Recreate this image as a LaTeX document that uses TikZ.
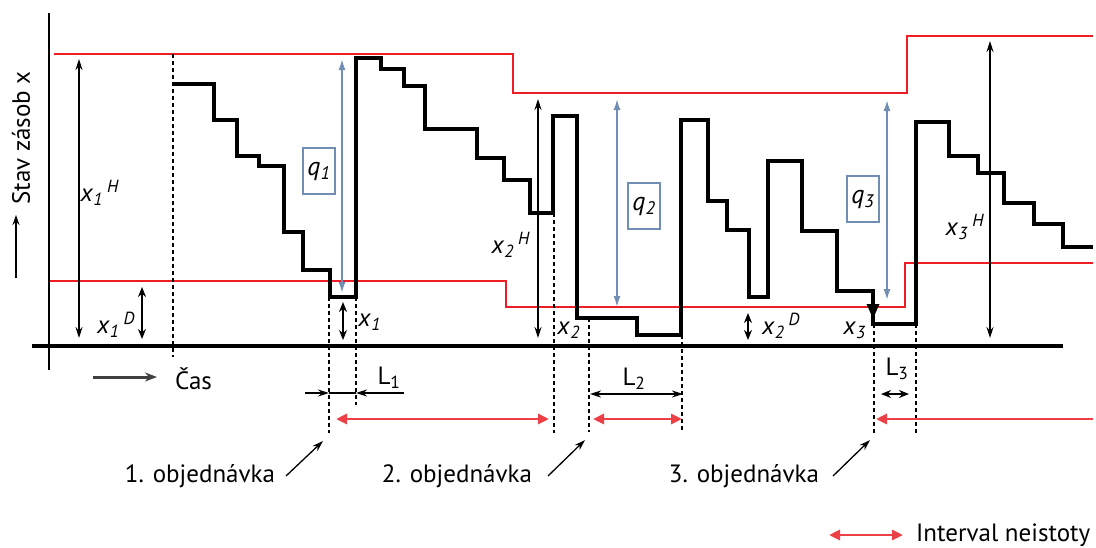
\documentclass[tikz,border=0pt]{standalone}
\usepackage{fontspec}
\setmainfont{PT Sans}
\usetikzlibrary{arrows.meta}
\definecolor{qblue}{RGB}{112,142,180}
\definecolor{limred}{RGB}{238,28,36}
\definecolor{intred}{RGB}{236,64,70}
\newcommand{\xsym}[2]{\textit{x}\textsubscript{\textit{#1}}\,\textsuperscript{\textit{#2}}}
\newcommand{\qsym}[1]{\textit{q}\textsubscript{\textit{#1}}}

\begin{document}
\begin{tikzpicture}[x=1pt,y=-1pt,
  lbl/.style={font=\fontsize{25}{27}\selectfont, inner sep=0pt},
  stock/.style={line width=3.2pt, line join=miter},
  limit/.style={limred, line width=1.5pt},
  guide/.style={dash pattern=on 4pt off 3pt, line width=1.1pt},
  span/.style={{Stealth[length=11pt,width=7pt]}-{Stealth[length=11pt,width=7pt]}, line width=1.3pt},
  bigspan/.style={{Stealth[length=10pt,width=8pt]}-{Stealth[length=10pt,width=8pt]}, line width=2.2pt},
  qspan/.style={qblue, line width=1.8pt, {Latex[length=11pt,width=7pt]}-{Latex[length=11pt,width=7pt]}},
  qbox/.style={draw=qblue, line width=1.3pt, minimum width=32pt, minimum height=46pt, inner sep=0pt, font=\fontsize{26}{28}\selectfont},
  interval/.style={intred, line width=2.8pt},
  pointer/.style={-{Stealth[length=11pt,width=7pt]}, line width=1.3pt}]
\useasboundingbox (0,0) rectangle (1096,547);
\fill [white] (0,0) rectangle (1096,547);

% axes
\draw [line width=2.5pt] (49,13) -- (49,370);
\draw [line width=3.5pt] (32,346) -- (1063,346);
\node [lbl, rotate=90] (ylab) at (21,138) {Stav zásob x};
\draw [-{Stealth[length=10pt,width=7pt]}, line width=2pt] (16,278) -- (16,215);
\draw [-{Stealth[length=12pt,width=9pt]}, line width=3pt, black!75] (93,377) -- (157,377);
\node [lbl, anchor=west] (cas) at (175,379) {Čas};

% limits
\draw [limit] (54,54) -- (513,54) -- (513,93) -- (907,93) -- (907,36) -- (1093,36);
\draw [limit] (50,281) -- (506,281) -- (506,307) -- (905,307) -- (905,263) -- (1093,263);

% dashed guides
\draw [guide] (173,54) -- (173,357);
\draw [guide] (329,297) -- (329,433);
\draw [guide] (356,297) -- (356,405);
\draw [guide] (554,213) -- (554,433);
\draw [guide] (589,318) -- (589,432);
\draw [guide] (682,335) -- (682,430);
\draw [guide] (874,324) -- (874,433);
\draw [guide] (916,324) -- (916,433);

% stock level
\draw [stock] (173,84) -- (214,84) -- (214,120) -- (237,120) -- (237,156) -- (259,156) -- (259,166)
  -- (284,166) -- (284,232) -- (303,232) -- (303,270) -- (330,270) -- (330,297) -- (356,297)
  -- (356,58) -- (381,58) -- (381,69) -- (404,69) -- (404,86) -- (425,86) -- (425,129) -- (477,129)
  -- (477,158) -- (504,158) -- (504,180) -- (530,180) -- (530,213) -- (553,213) -- (553,116)
  -- (577,116) -- (577,318) -- (637,318) -- (637,335) -- (681,335) -- (681,120) -- (708,120)
  -- (708,201) -- (727,201) -- (727,230) -- (749,230) -- (749,297) -- (768,297) -- (768,161)
  -- (802,161) -- (802,231) -- (837,231) -- (837,291) -- (873,291) -- (873,324) -- (916,324)
  -- (916,122) -- (949,122) -- (949,156) -- (978,156) -- (978,173) -- (1004,173) -- (1004,203)
  -- (1034,203) -- (1034,224) -- (1063,224) -- (1063,247) -- (1093,247);
\draw [-{Triangle[length=15pt,width=12pt]}, line width=3.2pt] (873,291) -- (873,319);

% vertical spans
\draw [span] (79,59) -- (79,338);
\node [lbl] (xH1) at (100,193) {\xsym{1}{H}};
\draw [bigspan] (142,287) -- (142,339);
\node [lbl] (xD1) at (116,325) {\xsym{1}{D}};
\draw [qspan] (342,59) -- (342,293);
\node [qbox] (q1) at (319,171) {\qsym{1}};
\draw [bigspan] (343,302) -- (343,340);
\node [lbl] (x1) at (372,322) {\xsym{1}{}};
\draw [span] (538,99) -- (538,338);
\node [lbl] (xH2) at (511,245) {\xsym{2}{H}};
\node [lbl] (x2) at (571,330) {\xsym{2}{}};
\draw [qspan] (617,99) -- (617,307);
\node [qbox] (q2) at (644,206) {\qsym{2}};
\draw [bigspan] (748,313) -- (748,340);
\node [lbl] (xD2) at (781,326) {\xsym{2}{D}};
\node [lbl] (x3) at (857,330) {\xsym{3}{}};
\draw [qspan] (887,100) -- (887,300);
\node [qbox] (q3) at (863,199) {\qsym{3}};
\draw [span] (990,41) -- (990,338);
\node [lbl] (xH3) at (965,227) {\xsym{3}{H}};

% lead times
\node [lbl] (L1) at (389,378) {L\textsubscript{1}};
\draw [pointer] (305,393) -- (329,393);
\draw [line width=1.3pt] (329,393) -- (356,393);
\draw [pointer] (404,393) -- (356,393);
\node [lbl] (L2) at (634,379) {L\textsubscript{2}};
\draw [span, line width=2pt] (590,394) -- (683,394);
\node [lbl] (L3) at (897,369) {L\textsubscript{3}};
\draw [bigspan] (881,394) -- (909,394);

% uncertainty intervals
\draw [interval, {Triangle[length=11pt,width=10pt]}-{Triangle[length=11pt,width=10pt]}] (336,419) -- (549,419);
\draw [interval, {Triangle[length=11pt,width=10pt]}-{Triangle[length=11pt,width=10pt]}] (593,419) -- (682,419);
\draw [interval, {Triangle[length=11pt,width=10pt]}-] (876,419) -- (1093,419);

% orders
\node [lbl] (obj1) at (200,476) {1. objednávka};
\draw [pointer] (286,476) -- (323,441);
\node [lbl] (obj2) at (457,476) {2. objednávka};
\draw [pointer] (548,476) -- (585,440);
\node [lbl] (obj3) at (744,476) {3. objednávka};
\draw [pointer] (833,476) -- (870,440);

% legend
\draw [interval, {Triangle[length=11pt,width=10pt]}-{Triangle[length=11pt,width=10pt]}] (829,535) -- (903,535);
\node [lbl, anchor=west] (legend) at (916,535) {Interval neistoty};
\end{tikzpicture}
\end{document}
